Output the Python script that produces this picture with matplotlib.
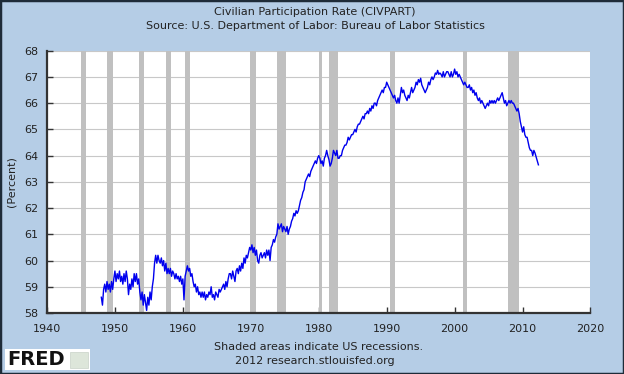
import numpy as np
import matplotlib
matplotlib.use('Agg')
import matplotlib.pyplot as plt
from matplotlib.patches import Rectangle

# civilian participation rate, every 2 months from Jan 1948
civpart = [
    58.6, 58.3, 58.9, 59.1, 58.8, 59.2,   # 1948
    58.9, 59.1, 58.8, 59.2, 58.9, 59.3,   # 1949
    59.6, 59.2, 59.5, 59.3, 59.6, 59.2,   # 1950
    59.4, 59.1, 59.5, 59.2, 59.6, 59.3,   # 1951
    58.7, 59.1, 58.9, 59.3, 59.0, 59.5,   # 1952
    59.2, 59.5, 59.1, 59.3, 58.8, 58.5,   # 1953
    58.8, 58.3, 58.7, 58.4, 58.1, 58.6,   # 1954
    58.3, 58.8, 58.5, 59.0, 59.3, 59.9,   # 1955
    60.2, 59.9, 60.2, 60.0, 59.9, 60.1,   # 1956
    59.8, 60.0, 59.6, 59.9, 59.5, 59.7,   # 1957
    59.5, 59.7, 59.4, 59.6, 59.5, 59.3,   # 1958
    59.5, 59.3, 59.4, 59.2, 59.4, 59.1,   # 1959
    59.3, 58.5, 59.4, 59.6, 59.8, 59.6,   # 1960
    59.7, 59.4, 59.5, 59.2, 59.0, 59.1,   # 1961
    58.8, 59.0, 58.7, 58.8, 58.6, 58.8,   # 1962
    58.6, 58.8, 58.5, 58.7, 58.6, 58.8,   # 1963
    58.7, 59.0, 58.6, 58.7, 58.5, 58.8,   # 1964
    58.7, 58.6, 58.9, 58.8, 58.9, 59.0,   # 1965
    59.1, 58.9, 59.2, 59.0, 59.3, 59.5,   # 1966
    59.5, 59.3, 59.6, 59.4, 59.2, 59.6,   # 1967
    59.7, 59.5, 59.8, 59.6, 59.9, 59.7,   # 1968
    60.1, 59.9, 60.2, 60.1, 60.3, 60.5,   # 1969
    60.4, 60.6, 60.3, 60.5, 60.2, 60.4,   # 1970
    60.0, 59.9, 60.2, 60.3, 60.1, 60.2,   # 1971
    60.3, 60.1, 60.4, 60.2, 60.4, 60.0,   # 1972
    60.5, 60.6, 60.8, 60.7, 60.9, 61.0,   # 1973
    61.4, 61.2, 61.3, 61.4, 61.1, 61.3,   # 1974
    61.2, 61.1, 61.3, 61.0, 61.2, 61.3,   # 1975
    61.5, 61.6, 61.8, 61.7, 61.9, 61.8,   # 1976
    61.9, 62.1, 62.3, 62.4, 62.6, 62.7,   # 1977
    63.0, 63.1, 63.2, 63.3, 63.2, 63.4,   # 1978
    63.5, 63.6, 63.7, 63.8, 63.7, 63.9,   # 1979
    64.0, 63.9, 63.7, 63.8, 63.6, 63.9,   # 1980
    64.0, 64.2, 64.0, 63.85, 63.6, 63.7,  # 1981
    63.9, 64.2, 64.1, 64.0, 64.2, 63.9,   # 1982
    63.9, 64.0, 64.0, 64.2, 64.3, 64.4,   # 1983
    64.4, 64.5, 64.7, 64.6, 64.7, 64.8,   # 1984
    64.8, 64.9, 65.0, 64.9, 65.1, 65.2,   # 1985
    65.2, 65.3, 65.4, 65.5, 65.4, 65.6,   # 1986
    65.6, 65.7, 65.6, 65.8, 65.7, 65.9,   # 1987
    65.8, 66.0, 66.0, 65.9, 66.1, 66.2,   # 1988
    66.3, 66.4, 66.5, 66.4, 66.6, 66.6,   # 1989
    66.8, 66.7, 66.6, 66.5, 66.4, 66.3,   # 1990
    66.2, 66.3, 66.1, 66.0, 66.2, 66.0,   # 1991
    66.3, 66.6, 66.4, 66.5, 66.3, 66.2,   # 1992
    66.1, 66.3, 66.2, 66.4, 66.6, 66.4,   # 1993
    66.5, 66.6, 66.8, 66.7, 66.9, 66.8,   # 1994
    66.95, 66.7, 66.6, 66.5, 66.4, 66.5,  # 1995
    66.6, 66.8, 66.7, 66.9, 67.0, 66.9,   # 1996
    67.0, 67.15, 67.1, 67.25, 67.1, 67.15,  # 1997
    67.1, 67.0, 67.2, 67.0, 67.1, 67.2,   # 1998
    67.2, 67.1, 67.0, 67.2, 67.0, 67.1,   # 1999
    67.3, 67.1, 67.2, 67.0, 67.1, 67.0,   # 2000
    66.9, 66.8, 66.7, 66.8, 66.7, 66.6,   # 2001
    66.6, 66.7, 66.5, 66.6, 66.4, 66.5,   # 2002
    66.3, 66.4, 66.2, 66.1, 66.2, 66.0,   # 2003
    66.1, 66.0, 65.9, 65.8, 65.9, 66.0,   # 2004
    65.9, 66.1, 66.0, 66.1, 66.0, 66.1,   # 2005
    66.0, 66.1, 66.2, 66.1, 66.2, 66.3,   # 2006
    66.4, 66.2, 66.0, 66.1, 65.9, 66.0,   # 2007
    66.1, 66.0, 66.1, 66.0, 66.0, 65.9,   # 2008
    65.8, 65.7, 65.8, 65.6, 65.3, 65.1,   # 2009
    64.9, 65.1, 64.8, 64.7, 64.7, 64.5,   # 2010
    64.3, 64.2, 64.2, 64.0, 64.2, 64.1,   # 2011
    63.95, 63.8, 63.65,                   # 2012
]
start_year = 1948

# NBER recessions (decimal years)
recession_start = [1945.08, 1948.83, 1953.50, 1957.58, 1960.25, 1969.92,
                   1973.83, 1980.00, 1981.50, 1990.50, 2001.17, 2007.92]
recession_end = [1945.75, 1949.75, 1954.33, 1958.25, 1961.08, 1970.83,
                 1975.17, 1980.50, 1982.83, 1991.17, 2001.83, 2009.42]

x_ticks = [1940, 1950, 1960, 1970, 1980, 1990, 2000, 2010, 2020]
y_ticks = [58, 59, 60, 61, 62, 63, 64, 65, 66, 67, 68]

bg = '#B5CDE6'
txt = '#222222'

t = start_year + np.arange(len(civpart)) / 6.0

fig = plt.figure(figsize=(6.24, 3.74), dpi=100, facecolor=bg)
ax = fig.add_axes([0.0753, 0.1631, 0.8710, 0.7013])
ax.set_facecolor('white')

for s, e in zip(recession_start, recession_end):
    ax.axvspan(s, e, color='#C0C0C0', lw=0, zorder=1)

ax.plot(t, civpart, color='#0000EE', lw=1.0, zorder=3)

ax.set_xlim(1940, 2020)
ax.set_ylim(58, 68)
ax.set_xticks(x_ticks)
ax.set_yticks(y_ticks)
ax.grid(axis='y', color='#C8C8C8', lw=0.8, zorder=0)
ax.set_axisbelow(True)

ax.tick_params(direction='in', length=4, width=1, colors='#333333',
               labelsize=8, labelcolor=txt)
ax.tick_params(axis='x', pad=8)
ax.tick_params(axis='y', pad=6)
ax.spines['top'].set_visible(False)
ax.spines['right'].set_visible(False)
ax.spines['left'].set_color('#333333')
ax.spines['left'].set_linewidth(1.6)
ax.spines['bottom'].set_color('#333333')
ax.spines['bottom'].set_linewidth(1.6)

ax.set_ylabel('(Percent)', fontsize=8, color=txt)
ax.yaxis.set_label_coords(-0.056, 0.5)

fig.text(0.505, 1 - 12 / 374, 'Civilian Participation Rate (CIVPART)',
         ha='center', va='center', fontsize=8, color=txt)
fig.text(0.505, 1 - 26 / 374, 'Source: U.S. Department of Labor: Bureau of Labor Statistics',
         ha='center', va='center', fontsize=8, color=txt)
fig.text(0.51, 1 - 347 / 374, 'Shaded areas indicate US recessions.',
         ha='center', va='center', fontsize=8, color=txt)
fig.text(0.505, 1 - 361 / 374, '2012 research.stlouisfed.org',
         ha='center', va='center', fontsize=8, color=txt)

# FRED logo
fig.patches.append(Rectangle((5 / 624, 1 - 370 / 374), 85 / 624, 21 / 374,
                             transform=fig.transFigure, facecolor='white',
                             edgecolor='none', zorder=1))
fig.text(7 / 624, 1 - 359.5 / 374, 'FRED', ha='left', va='center',
         fontsize=14, fontweight='bold', color='#111111', zorder=2)
fig.patches.append(Rectangle((70 / 624, 1 - 368 / 374), 18 / 624, 16 / 374,
                             transform=fig.transFigure, facecolor='#DDE6DA',
                             edgecolor='#C8D2C8', lw=0.5, zorder=2))

# outer border
fig.patches.append(Rectangle((0, 0), 1, 1, transform=fig.transFigure,
                             fill=False, edgecolor='#1E2B38', lw=2.5, zorder=5))

fig.savefig('out.png', dpi=100, facecolor=bg)
